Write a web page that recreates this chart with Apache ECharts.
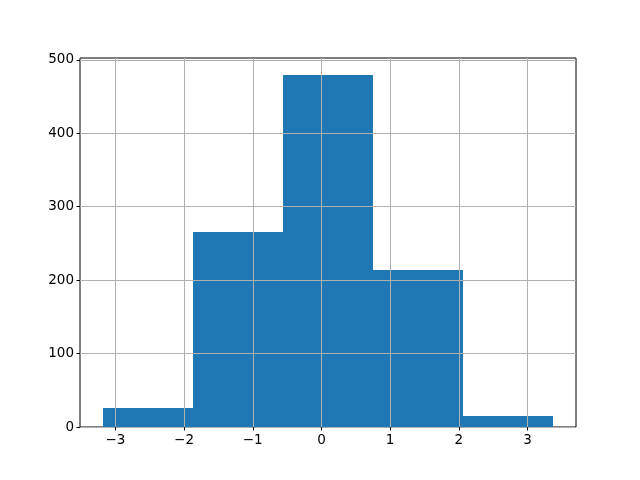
<!DOCTYPE html>
<html>
<head>
<meta charset="utf-8">
<script src="https://cdn.jsdelivr.net/npm/echarts@6/dist/echarts.min.js"></script>
<style>html,body{margin:0;padding:0;background:#fff;}#c{width:640px;height:480px;}</style>
</head>
<body>
<div id="c"></div>
<script>
const binEdges = [-3.187, -1.874, -0.561, 0.752, 2.065, 3.378];
const counts = [26, 265, 480, 214, 15];
const xTicks = [-3, -2, -1, 0, 1, 2, 3];
const yTicks = [0, 100, 200, 300, 400, 500];

const data = counts.map((c, i) => [binEdges[i], binEdges[i + 1], c]);
const chart = echarts.init(document.getElementById('c'), null, {renderer: 'canvas'});
const font = {fontFamily: 'DejaVu Sans', fontSize: 13.5, color: '#000'};
chart.setOption({
  backgroundColor: '#fff',
  animation: false,
  grid: {left: 80, right: 64, top: 58, bottom: 53, show: true, borderColor: '#000', borderWidth: 1, containLabel: false},
  xAxis: {
    type: 'value', min: -3.515, max: 3.706, z: 10,
    axisLine: {show: false, onZero: false},
    axisTick: {show: true, length: 3.5, inside: false, lineStyle: {color: '#000', width: 1}, customValues: xTicks},
    axisLabel: Object.assign({margin: 6, customValues: xTicks, formatter: v => (v < 0 ? '\u2212' + Math.abs(v) : '' + v)}, font),
    splitLine: {show: true, lineStyle: {color: '#b0b0b0', width: 1}}
  },
  yAxis: {
    type: 'value', min: 0, max: 502.5, z: 10,
    axisLine: {show: false, onZero: false},
    axisTick: {show: true, length: 3.5, lineStyle: {color: '#000', width: 1}, customValues: yTicks},
    axisLabel: Object.assign({margin: 6, customValues: yTicks}, font),
    splitLine: {show: true, lineStyle: {color: '#b0b0b0', width: 1}}
  },
  series: [{
    type: 'custom',
    z: 2,
    encode: {x: [0, 1], y: 2},
    data: data,
    renderItem: function (params, api) {
      const p0 = api.coord([api.value(0), api.value(2)]);
      const p1 = api.coord([api.value(1), 0]);
      const x0 = Math.round(p0[0]), x1 = Math.round(p1[0]);
      const y0 = Math.round(p0[1]), y1 = Math.round(p1[1]);
      return {type: 'rect', shape: {x: x0, y: y0, width: x1 - x0, height: y1 - y0}, style: {fill: '#1f77b4'}};
    }
  }]
});
</script>
</body>
</html>
